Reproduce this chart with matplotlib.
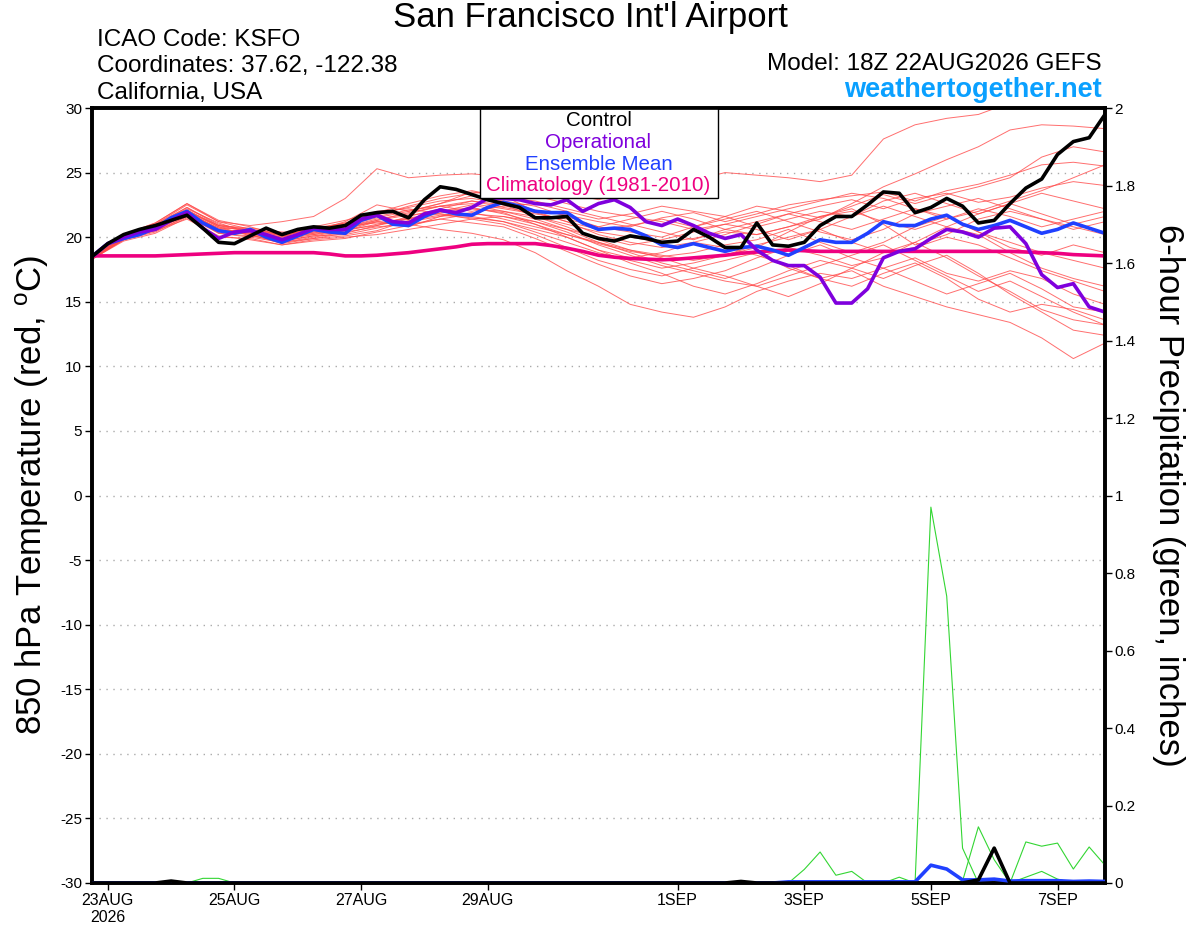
import numpy as np
import matplotlib
matplotlib.use("Agg")
import matplotlib.pyplot as plt
from matplotlib.patches import Rectangle

plt.rcParams['font.family'] = ['Liberation Sans', 'DejaVu Sans']
plt.rcParams['mathtext.default'] = 'regular'

# forecast hours from 18Z 22AUG2026
hours6 = np.arange(0, 385, 6)
hours12 = np.arange(0, 385, 12)

# 850 hPa temperature (C), 6-hourly
control_t = [18.5, 19.5, 20.2, 20.6, 20.9, 21.3, 21.7, 20.7, 19.6, 19.5,
             20.1, 20.7, 20.2, 20.6, 20.8, 20.7, 20.9, 21.7, 21.9, 22.0,
             21.5, 22.9, 23.9, 23.7, 23.3, 22.9, 22.6, 22.3, 21.5, 21.5,
             21.6, 20.3, 19.9, 19.7, 20.1, 19.9, 19.6, 19.7, 20.6, 20.0,
             19.2, 19.2, 21.1, 19.4, 19.3, 19.6, 20.9, 21.6, 21.6, 22.5,
             23.5, 23.4, 21.9, 22.3, 23.0, 22.4, 21.1, 21.3, 22.6, 23.8,
             24.5, 26.4, 27.4, 27.7, 29.5]
operational_t = [18.5, 19.5, 20.0, 20.4, 20.6, 21.3, 21.9, 20.7, 19.9, 20.4,
                 20.5, 20.2, 19.8, 20.2, 20.7, 20.6, 20.6, 21.4, 21.7, 21.2,
                 21.1, 21.8, 22.1, 21.9, 22.3, 23.0, 23.0, 22.9, 22.6, 22.5,
                 22.9, 22.0, 22.6, 22.9, 22.3, 21.2, 20.9, 21.4, 20.9, 20.3,
                 19.9, 20.2, 19.0, 18.2, 17.8, 17.8, 16.9, 14.9, 14.9, 16.0,
                 18.4, 18.9, 19.1, 19.9, 20.6, 20.4, 20.0, 20.7, 20.8, 19.5,
                 17.1, 16.1, 16.4, 14.6, 14.2]
mean_t = [18.5, 19.5, 19.9, 20.2, 20.7, 21.5, 22.0, 21.1, 20.5, 20.3,
          20.6, 20.0, 19.6, 20.1, 20.6, 20.4, 20.3, 21.3, 21.7, 21.0,
          20.9, 21.6, 22.1, 21.8, 21.7, 22.3, 22.7, 22.4, 22.0, 21.9,
          21.9, 21.1, 20.6, 20.7, 20.6, 20.1, 19.4, 19.2, 19.5, 19.2,
          18.9, 19.2, 19.3, 19.0, 18.6, 19.2, 19.8, 19.6, 19.6, 20.3,
          21.2, 20.9, 20.9, 21.4, 21.7, 21.0, 20.6, 20.9, 21.3, 20.8,
          20.3, 20.6, 21.1, 20.7, 20.3]
clim_t = [18.55, 18.55, 18.55, 18.55, 18.55, 18.6, 18.65, 18.7, 18.75, 18.8,
          18.8, 18.8, 18.8, 18.8, 18.8, 18.7, 18.55, 18.55, 18.6, 18.7,
          18.8, 18.95, 19.1, 19.25, 19.45, 19.5, 19.5, 19.5, 19.5, 19.35,
          19.15, 18.9, 18.6, 18.45, 18.35, 18.3, 18.25, 18.3, 18.4, 18.5,
          18.6, 18.75, 18.85, 18.95, 19.0, 18.95, 18.9, 18.9, 18.9, 18.9,
          18.9, 18.9, 18.9, 18.9, 18.9, 18.9, 18.9, 18.9, 18.9, 18.85,
          18.8, 18.75, 18.65, 18.6, 18.55]

# ensemble members, 12-hourly
members_t = [
    [18.5, 20.2, 21.0, 22.5, 21.2, 20.9, 21.2, 21.6, 23.0, 25.3, 24.6, 24.8, 24.9, 24.7, 24.0, 23.4, 22.9,
     23.6, 23.9, 24.4, 25.0, 24.8, 24.6, 24.3, 24.8, 27.6, 28.7, 29.2, 29.5, 30.4, 31.0, 31.2, 31.0],
    [18.4, 19.9, 20.6, 21.8, 20.5, 20.3, 19.8, 20.2, 20.5, 21.2, 21.4, 21.9, 22.2, 22.0, 21.6, 21.0, 20.4,
     20.0, 19.6, 19.9, 20.4, 20.2, 20.8, 21.4, 22.6, 23.9, 24.9, 26.0, 27.0, 28.3, 28.7, 28.6, 28.4],
    [18.3, 19.8, 20.5, 21.6, 20.4, 20.6, 20.2, 20.6, 21.0, 21.8, 22.3, 22.8, 23.0, 22.6, 22.1, 21.7, 21.2,
     20.8, 21.5, 21.9, 21.2, 21.8, 22.5, 22.9, 23.2, 23.5, 22.8, 23.6, 24.1, 24.8, 25.6, 25.8, 25.5],
    [18.4, 20.0, 20.9, 22.1, 20.8, 20.1, 19.8, 20.5, 21.2, 22.5, 22.0, 22.6, 23.5, 23.2, 22.0, 21.2, 20.6,
     20.9, 21.4, 20.8, 21.6, 22.4, 22.0, 21.5, 22.4, 23.3, 22.6, 23.3, 23.9, 24.6, 26.2, 27.0, 26.6],
    [18.3, 19.7, 20.3, 21.5, 20.0, 19.9, 19.4, 19.8, 20.0, 20.2, 20.6, 21.0, 21.4, 21.0, 20.2, 19.2, 18.2,
     17.5, 17.0, 17.6, 18.2, 18.8, 17.6, 16.8, 17.4, 16.2, 15.4, 14.6, 14.0, 13.4, 12.2, 10.6, 11.8],
    [18.4, 19.9, 20.6, 21.8, 20.3, 20.0, 19.6, 20.0, 20.4, 20.8, 21.0, 20.6, 20.3, 19.8, 18.8, 17.4, 16.2,
     14.8, 14.2, 13.8, 14.6, 15.8, 16.6, 17.2, 16.8, 17.6, 18.4, 17.2, 16.6, 17.4, 16.8, 15.6, 14.8],
    [18.5, 20.1, 20.9, 22.3, 21.0, 20.5, 20.0, 20.4, 20.8, 21.4, 21.8, 22.4, 22.8, 22.5, 21.6, 20.8, 19.8,
     19.0, 18.4, 17.6, 17.0, 16.2, 15.4, 16.4, 17.6, 18.8, 19.6, 18.4, 17.0, 15.8, 14.4, 13.6, 13.2],
    [18.3, 19.8, 20.7, 21.9, 20.7, 20.2, 19.5, 19.9, 20.1, 20.5, 21.3, 21.7, 21.5, 21.2, 20.4, 19.6, 18.8,
     18.2, 17.6, 18.0, 18.6, 19.2, 20.4, 21.6, 22.2, 21.0, 19.4, 20.2, 21.4, 22.0, 21.4, 20.8, 20.2],
    [18.4, 20.0, 20.8, 22.0, 20.9, 20.6, 20.3, 20.7, 21.1, 21.9, 22.6, 23.2, 23.6, 23.1, 22.8, 22.2, 21.6,
     21.0, 20.4, 19.8, 20.6, 21.2, 21.8, 22.4, 22.9, 22.2, 23.0, 23.4, 22.7, 23.1, 23.8, 24.3, 24.0],
    [18.5, 20.2, 21.1, 22.6, 21.3, 20.8, 20.1, 20.2, 20.7, 21.2, 20.8, 21.6, 22.2, 21.9, 21.0, 20.2, 19.5,
     18.9, 18.5, 18.8, 19.4, 19.8, 20.6, 19.6, 18.8, 19.6, 20.8, 21.6, 20.4, 19.2, 18.6, 19.4, 18.8],
    [18.3, 19.9, 20.5, 21.4, 20.1, 19.8, 19.4, 19.7, 19.9, 20.4, 20.9, 21.4, 21.1, 20.8, 19.9, 18.9, 17.9,
     17.0, 16.4, 16.8, 17.4, 18.4, 19.2, 18.6, 17.8, 18.4, 19.6, 20.8, 20.2, 18.8, 17.6, 16.8, 16.2],
    [18.4, 20.0, 20.7, 22.0, 20.8, 20.5, 19.9, 20.6, 21.0, 21.6, 22.1, 22.4, 22.0, 22.4, 22.6, 22.0, 21.4,
     21.8, 22.4, 22.0, 21.6, 20.8, 21.4, 22.0, 21.6, 22.8, 23.4, 22.6, 21.8, 22.6, 23.4, 22.8, 22.2],
    [18.5, 20.1, 20.9, 22.2, 21.1, 20.3, 19.7, 20.1, 20.5, 21.0, 21.5, 21.8, 21.6, 21.2, 20.6, 20.0, 19.0,
     18.4, 18.8, 19.6, 19.2, 18.6, 17.8, 16.8, 16.2, 17.2, 18.0, 16.8, 15.2, 14.2, 14.8, 14.4, 13.6],
    [18.4, 19.8, 20.6, 21.7, 20.5, 20.4, 20.0, 20.8, 21.3, 22.0, 22.2, 21.8, 21.4, 21.6, 21.2, 20.6, 20.0,
     19.4, 19.8, 20.4, 21.0, 20.6, 19.8, 20.6, 21.6, 22.4, 21.6, 20.8, 21.8, 22.6, 21.8, 21.0, 21.6],
    [18.3, 19.9, 20.8, 22.1, 20.9, 20.7, 20.4, 20.3, 20.6, 21.3, 21.9, 22.4, 22.6, 22.2, 21.8, 21.4, 20.8,
     20.4, 20.0, 20.8, 21.4, 22.0, 21.2, 20.4, 19.8, 20.6, 21.8, 22.4, 23.0, 22.2, 21.4, 20.6, 21.2],
    [18.5, 20.0, 20.6, 21.9, 20.6, 20.2, 19.8, 20.4, 20.6, 20.9, 21.4, 22.0, 22.5, 22.0, 21.4, 20.6, 19.6,
     18.8, 18.0, 17.4, 16.8, 17.6, 18.6, 19.4, 18.4, 17.6, 16.6, 15.6, 16.4, 17.2, 16.0, 14.6, 14.2],
    [18.4, 20.1, 21.0, 22.3, 20.9, 20.4, 19.6, 19.9, 20.3, 20.9, 21.6, 22.2, 22.8, 22.3, 21.9, 21.2, 20.2,
     19.6, 19.2, 19.6, 20.2, 21.0, 21.8, 21.2, 20.6, 21.4, 22.2, 21.6, 20.4, 19.6, 18.8, 18.2, 17.6],
    [18.3, 19.8, 20.4, 21.6, 20.3, 20.1, 19.7, 20.1, 20.2, 20.7, 21.2, 21.6, 21.9, 21.4, 20.8, 20.2, 19.6,
     19.0, 18.6, 18.2, 18.6, 19.4, 20.0, 20.6, 19.6, 18.8, 19.2, 20.0, 19.4, 18.4, 17.4, 16.6, 15.8],
    [18.5, 20.2, 21.1, 22.6, 21.2, 20.6, 20.2, 20.6, 21.1, 21.7, 22.4, 23.0, 23.4, 23.6, 23.2, 22.6, 22.0,
     21.6, 21.2, 20.6, 21.0, 21.6, 22.2, 22.8, 23.4, 23.0, 22.2, 21.4, 22.0, 22.8, 23.6, 24.6, 25.6],
    [18.4, 19.9, 20.7, 21.8, 20.7, 20.6, 20.1, 20.5, 20.8, 21.3, 21.7, 22.0, 22.3, 21.8, 21.2, 20.4, 19.4,
     18.6, 17.8, 17.2, 16.6, 16.2, 17.0, 17.8, 18.6, 19.4, 18.2, 17.0, 15.8, 16.6, 15.4, 14.2, 13.2],
    [18.4, 20.0, 20.9, 22.0, 20.6, 20.3, 19.9, 20.3, 20.9, 21.5, 22.0, 22.6, 23.2, 22.8, 22.4, 21.6, 20.8,
     21.4, 22.0, 21.4, 20.6, 20.2, 20.8, 21.6, 22.0, 21.2, 20.6, 21.4, 22.2, 21.6, 20.8, 21.4, 22.0],
    [18.3, 19.9, 20.6, 21.7, 20.4, 20.5, 20.1, 20.6, 20.9, 21.1, 21.0, 21.4, 21.8, 21.6, 21.0, 20.0, 19.0,
     18.0, 17.2, 16.2, 15.6, 16.4, 17.4, 18.2, 17.6, 16.8, 17.8, 18.6, 17.2, 15.6, 14.2, 12.8, 12.4],
]

# 6-hour precipitation (inches), 6-hourly
control_p = [0.0] * 5 + [0.005] + [0.0] * 35 + [0.004] + [0.0] * 14 + [0.008, 0.09] + [0.0] * 7
mean_p = [0.0] * 44 + [0.003] * 9 + [0.046, 0.036, 0.008, 0.008, 0.010, 0.005,
                                     0.006, 0.006, 0.006, 0.004, 0.005, 0.004]
members_p = [
    [0.0] * 53 + [0.97, 0.74, 0.09] + [0.0] * 9,
    [0.0] * 45 + [0.035, 0.08, 0.02, 0.03] + [0.0] * 16,
    [0.0] * 55 + [0.005, 0.145, 0.06] + [0.0] * 7,
    [0.0] * 59 + [0.106, 0.095, 0.103, 0.036, 0.093, 0.046],
    [0.0] * 59 + [0.015, 0.03, 0.01, 0.0, 0.0, 0.0],
    [0.0] * 7 + [0.012, 0.012] + [0.0] * 42 + [0.015] + [0.0] * 13,
]

tick_hours = [6, 54, 102, 150, 222, 270, 318, 366]
tick_labels = ['23AUG\n2026', '25AUG', '27AUG', '29AUG', '1SEP', '3SEP', '5SEP', '7SEP']
temp_ticks = list(range(-30, 31, 5))
precip_ticks = [round(0.2 * k, 1) for k in range(11)]

RED = '#ff4a4a'
GREEN = '#33d633'
BLUE = '#2040ff'
PURPLE = '#7f00dd'
PINK = '#ee0080'
BLACK = '#000000'

fig = plt.figure(figsize=(12, 9.27), dpi=100)
ax = fig.add_axes([92 / 1200, 1 - 883 / 927, 1013 / 1200, 775 / 927])
ax2 = ax.twinx()

for m in members_t:
    ax.plot(hours12, m, color=RED, lw=0.7, alpha=0.8, zorder=1)
ax.plot(hours6, clim_t, color=PINK, lw=2.6, zorder=3)
ax.plot(hours6, mean_t, color=BLUE, lw=2.6, zorder=4)
ax.plot(hours6, operational_t, color=PURPLE, lw=2.6, zorder=5)
ax.plot(hours6, control_t, color=BLACK, lw=2.6, zorder=6)

for m in members_p:
    ax2.plot(hours6, m, color=GREEN, lw=0.8, zorder=1)
ax2.plot(hours6, mean_p, color=BLUE, lw=2.6, zorder=3)
ax2.plot(hours6, control_p, color=BLACK, lw=2.6, zorder=4)

ax.set_xlim(0, 384)
ax.set_ylim(-30, 30)
ax2.set_ylim(0, 2)

ax.set_yticks(temp_ticks)
ax.set_yticklabels([str(v) for v in temp_ticks])
ax2.set_yticks(precip_ticks)
ax2.set_yticklabels([f'{v:g}' for v in precip_ticks])
ax.set_xticks(tick_hours)
ax.set_xticklabels(tick_labels)

ax.yaxis.grid(True, color='#aaaaaa', linestyle=(0, (1, 4)), lw=1.0)
ax.set_axisbelow(True)

for a in (ax, ax2):
    for s in a.spines.values():
        s.set_linewidth(2.6)
    a.tick_params(direction='out', length=5, width=1, labelsize=11, pad=2)
ax.tick_params(axis='x', labelsize=11.5)

# legend box
ax.add_patch(Rectangle((0.383, 0.884), 0.235, 0.116, transform=ax.transAxes,
                       facecolor='white', edgecolor='black', lw=1.0, zorder=10))
legend_items = [('Control', BLACK), ('Operational', PURPLE),
                ('Ensemble Mean', BLUE), ('Climatology (1981-2010)', PINK)]
for k, (lab, col) in enumerate(legend_items):
    ax.text(0.5, 1 - (13 + 21.5 * k) / 775, lab, color=col, fontsize=14.8,
            ha='center', va='center', transform=ax.transAxes, zorder=11)

# header
fig.text(590 / 1200, 1 - 18 / 927, "San Francisco Int'l Airport", fontsize=25,
         ha='center', va='center')
fig.text(97 / 1200, 1 - 40 / 927, 'ICAO Code: KSFO', fontsize=17.5, ha='left', va='center')
fig.text(97 / 1200, 1 - 66 / 927, 'Coordinates: 37.62, -122.38', fontsize=17.5, ha='left', va='center')
fig.text(97 / 1200, 1 - 93 / 927, 'California, USA', fontsize=17.5, ha='left', va='center')
fig.text(1102 / 1200, 1 - 64 / 927, 'Model: 18Z 22AUG2026 GEFS', fontsize=17.5, ha='right', va='center')
fig.text(1102 / 1200, 1 - 90 / 927, 'weathertogether.net', fontsize=19.5, fontweight='bold',
         color='#0aa0ff', ha='right', va='center')

fig.text(32 / 1200, 1 - 495 / 927, '850 hPa Temperature (red, $^{o}$C)', fontsize=25,
         rotation=90, ha='center', va='center')
fig.text(1168 / 1200, 1 - 495 / 927, '6-hour Precipitation (green, inches)', fontsize=25,
         rotation=270, ha='center', va='center')

fig.savefig('out.png', dpi=100)
